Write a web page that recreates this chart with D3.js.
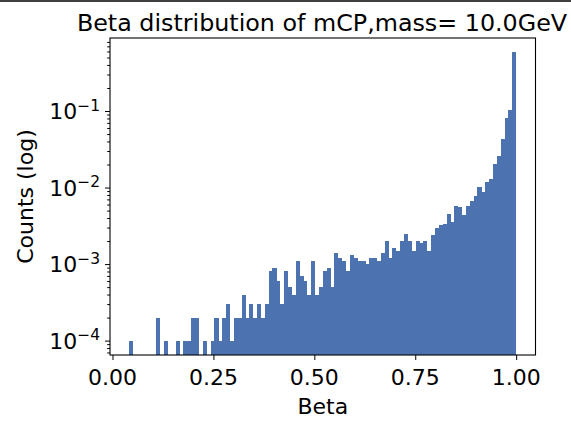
<!DOCTYPE html>
<html>
<head>
<meta charset="utf-8">
<script src="https://d3js.org/d3.v7.min.js"></script>
<style>
  body { margin: 0; background: #fff; }
  text { font-family: "DejaVu Sans", sans-serif; fill: #000; }
</style>
</head>
<body>
<svg width="571" height="423"></svg>
<script>

  // histogram of beta, 100 equal bins between the smallest and largest value
  var betaMin = 0.0417;
  var betaMax = 1.0;
  var counts = [
    1e-4, 0, 0, 0, 0, 0, 0, 2e-4, 0, 1e-4,
    0, 0, 1e-4, 0, 1e-4, 1e-4, 2e-4, 2e-4, 0, 1e-4,
    0, 1e-4, 2e-4, 1e-4, 2e-4, 3e-4, 1e-4, 2e-4, 2e-4, 4e-4,
    2e-4, 3e-4, 2e-4, 3e-4, 2e-4, 3e-4, 8e-4, 9e-4, 6e-4, 3e-4,
    8e-4, 5e-4, 4e-4, 1.1e-3, 7e-4, 6e-4, 4e-4, 1.1e-3, 4e-4, 5e-4,
    8e-4, 9e-4, 5e-4, 1.4e-3, 1.2e-3, 1.1e-3, 8e-4, 1.3e-3, 1.2e-3, 1.1e-3,
    1.1e-3, 1.0e-3, 1.2e-3, 1.2e-3, 1.1e-3, 1.4e-3, 2.0e-3, 1.2e-3, 1.6e-3, 1.5e-3,
    2.0e-3, 2.5e-3, 2.0e-3, 1.5e-3, 2.0e-3, 1.9e-3, 2.0e-3, 1.5e-3, 2.4e-3, 3.0e-3,
    3.2e-3, 3.3e-3, 4.5e-3, 3.6e-3, 5.8e-3, 5.5e-3, 4.4e-3, 5.8e-3, 6.7e-3, 7.8e-3,
    0.0101, 0.0087, 0.0118, 0.0128, 0.0204, 0.0259, 0.0431, 0.0818, 0.103, 0.583
  ];
  var xTicks = [0, 0.25, 0.5, 0.75, 1.0];
  var xTickLabels = ["0.00", "0.25", "0.50", "0.75", "1.00"];
  var yTickExps = [-4, -3, -2, -1];

  var svg = d3.select("svg");
  var mLeft = 110, mRight = 535.5, mTop = 38, mBottom = 355;
  var binW = (betaMax - betaMin) / counts.length;
  var pad = 0.05 * (betaMax - betaMin);

  var xScale = d3.scaleLinear().domain([betaMin - pad, betaMax + pad]).range([mLeft, mRight]);
  var yScale = d3.scaleLog().domain([Math.pow(10, -4.188), Math.pow(10, -0.046)]).range([mBottom, mTop]);

  // line along the top edge of the picture
  svg.append("line")
    .attr("x1", 0).attr("x2", 571)
    .attr("y1", 1).attr("y2", 1)
    .style("stroke", "#000")
    .style("stroke-width", 1.5);

  var bins = [];
  for (var i = 0; i < counts.length; i++) {
    if (counts[i] > 0) bins.push({ x0: betaMin + i * binW, x1: betaMin + (i + 1) * binW, v: counts[i] });
  }

  svg.append("g")
    .attr("shape-rendering", "crispEdges")
    .selectAll("rect")
    .data(bins)
    .enter()
    .append("rect")
    .attr("x", function (d) { return xScale(d.x0); })
    .attr("width", function (d) { return xScale(d.x1) - xScale(d.x0) + 0.2; })
    .attr("y", function (d) { return yScale(d.v); })
    .attr("height", function (d) { return mBottom - yScale(d.v); })
    .style("fill", "#4c72b0");

  // axes
  svg.append("g")
    .attr("transform", "translate(0," + mBottom + ")")
    .call(d3.axisBottom(xScale).tickValues(xTicks).tickSize(5).tickFormat(""))
    .call(function (g) { g.select(".domain").remove(); });

  var minor = [];
  for (var e = -5; e <= -1; e++) {
    for (var k = 2; k <= 9; k++) {
      var v = k * Math.pow(10, e);
      if (v >= yScale.domain()[0] && v <= yScale.domain()[1]) minor.push(v);
    }
  }
  svg.append("g")
    .attr("transform", "translate(" + mLeft + ",0)")
    .call(d3.axisLeft(yScale).tickValues(yTickExps.map(function (p) { return Math.pow(10, p); })).tickSize(5).tickFormat(""))
    .call(function (g) { g.select(".domain").remove(); });
  svg.append("g")
    .attr("transform", "translate(" + mLeft + ",0)")
    .call(d3.axisLeft(yScale).tickValues(minor).tickSize(2.8).tickFormat(""))
    .call(function (g) { g.select(".domain").remove(); });

  svg.selectAll(".tick line").style("stroke", "#000").style("stroke-width", 1);

  svg.append("rect")
    .attr("x", mLeft).attr("y", mTop)
    .attr("width", mRight - mLeft).attr("height", mBottom - mTop)
    .style("fill", "none")
    .style("stroke", "#000")
    .style("stroke-width", 1.1);

  // tick labels
  svg.append("g")
    .selectAll("text")
    .data(xTicks)
    .enter()
    .append("text")
    .attr("x", function (d) { return xScale(d); })
    .attr("y", 385)
    .attr("text-anchor", "middle")
    .style("font-size", "22px")
    .text(function (d, i) { return xTickLabels[i]; });

  var yl = svg.append("g")
    .selectAll("text")
    .data(yTickExps)
    .enter()
    .append("text")
    .attr("x", 100)
    .attr("y", function (d) { return yScale(Math.pow(10, d)) + 8; })
    .attr("text-anchor", "end")
    .style("font-size", "22px");
  yl.append("tspan").text("10");
  yl.append("tspan")
    .attr("dy", -8.5)
    .style("font-size", "15.5px")
    .text(function (d) { return "\u2212" + Math.abs(d); });

  svg.append("text")
    .attr("x", 322)
    .attr("y", 31)
    .attr("text-anchor", "middle")
    .style("font-size", "23.8px")
    .text("Beta distribution of mCP,mass= 10.0GeV");

  svg.append("text")
    .attr("x", (mLeft + mRight) / 2)
    .attr("y", 414)
    .attr("text-anchor", "middle")
    .style("font-size", "22px")
    .text("Beta");

  svg.append("text")
    .attr("transform", "translate(33," + ((mTop + mBottom) / 2) + ")rotate(-90)")
    .attr("text-anchor", "middle")
    .style("font-size", "22px")
    .text("Counts (log)");
</script>
</body>
</html>
